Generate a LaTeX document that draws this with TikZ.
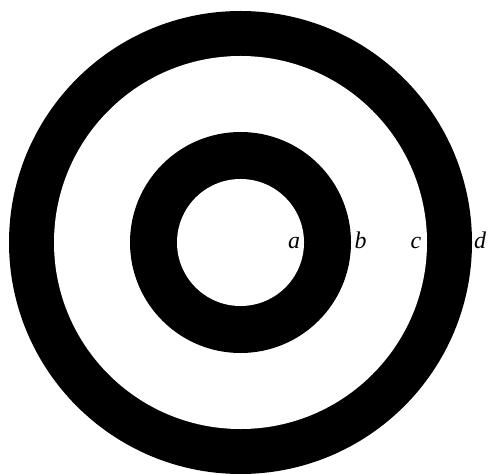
\documentclass[tikz,border=0pt]{standalone}
\usepackage{fontspec}
\setmainfont{Liberation Serif}
\begin{document}
\begin{tikzpicture}[x=1bp,y=-1bp,
  lab/.style={font=\fontsize{24}{26}\selectfont\itshape, inner sep=0pt, anchor=base}]
\useasboundingbox (0,0) rectangle (488,474);
\coordinate (O) at (240.5,242.5);
\fill[black] (O) circle[radius=231.5];
\fill[white] (O) circle[radius=186.5];
\fill[black] (O) circle[radius=110.5];
\fill[white] (O) circle[radius=63.5];
\node[lab] (a) at (294,248) {a};
\node[lab] (b) at (360.5,248) {b};
\node[lab] (c) at (416,248) {c};
\node[lab] (d) at (480,248) {d};
\end{tikzpicture}
\end{document}
